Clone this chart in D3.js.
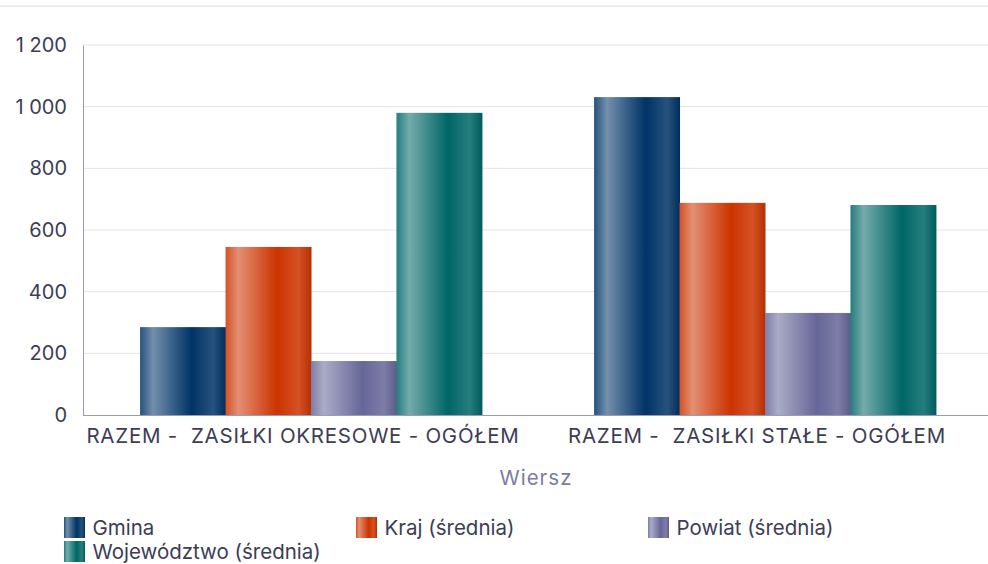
<!DOCTYPE html>
<html>
<head>
<meta charset="utf-8">
<script src="https://cdn.jsdelivr.net/npm/d3@7"></script>
<style>
  html, body { margin: 0; padding: 0; background: #fff; }
  svg { display: block; font-family: "Inter", "Open Sans", sans-serif; }
</style>
</head>
<body>
<svg id="chart" width="988" height="564"></svg>
<script>
// Categories (rows) and series
const categories = ["RAZEM -  ZASIŁKI OKRESOWE - OGÓŁEM", "RAZEM -  ZASIŁKI STAŁE - OGÓŁEM"];
const seriesNames = ["Gmina", "Kraj (średnia)", "Powiat (średnia)", "Województwo (średnia)"];
const gmina = [285, 1031];
const kraj = [545, 688];
const powiat = [175, 331];
const wojewodztwo = [980, 681];
const yTicks = [0, 200, 400, 600, 800, 1000, 1200];
const seriesColors = ["#003366", "#cc3300", "#666699", "#006666"];

const seriesValues = [gmina, kraj, powiat, wojewodztwo];
const data = categories.map((c, i) => ({
  category: c,
  values: seriesNames.map((s, k) => ({ series: s, k, value: seriesValues[k][i] }))
}));

const svg = d3.select("#chart");
const margin = { left: 83, right: 0, top: 45, bottom: 149 };
const W = 988, H = 564;
const textColor = "#3d3d55";

// thin rule across the top of the page
svg.append("rect").attr("x", 0).attr("y", 5).attr("width", W).attr("height", 2).attr("fill", "#ebebf0");

// Gradient for each series: light highlight left, dark core, soft edge
const defs = svg.append("defs");
seriesColors.forEach((col, k) => {
  const base = d3.color(col);
  const light = d3.interpolateRgb(col, "#ffffff");
  const g = defs.append("linearGradient").attr("id", "grad" + k)
    .attr("x1", "0%").attr("x2", "100%").attr("y1", "0%").attr("y2", "0%");
  [[0, light(0.15)], [0.15, light(0.45)], [0.6, col], [0.85, light(0.15)], [1, base.darker(0.3).formatHex()]]
    .forEach(([o, c]) => g.append("stop").attr("offset", o).attr("stop-color", c));
});

const x0 = d3.scaleBand().domain(categories).range([84, 992]).padding(0);
const x1 = d3.scaleBand().domain(seriesNames)
  .range([x0.bandwidth() * 0.1235, x0.bandwidth() * 0.8765]).padding(0);
const y = d3.scaleLinear().domain([0, 1200]).range([H - margin.bottom, margin.top]);

// Gridlines
svg.append("g").selectAll("line").data(yTicks.filter(t => t > 0)).join("line")
  .attr("x1", margin.left).attr("x2", W)
  .attr("y1", d => y(d)).attr("y2", d => y(d))
  .attr("stroke", "#e3e2ec").attr("stroke-width", 1);

// Y axis
const yAxis = svg.append("g").attr("transform", `translate(${margin.left},0)`)
  .call(d3.axisLeft(y).tickValues(yTicks).tickSize(0).tickPadding(16)
    .tickFormat(d => d3.format(",")(d).replace(/,/g, " ")));
yAxis.select(".domain").attr("stroke", "#9a9abb");
yAxis.selectAll("text").attr("font-size", 20).attr("fill", textColor)
  .attr("font-family", "Inter, 'Open Sans', sans-serif");

// Bars
const groups = svg.append("g").selectAll("g").data(data).join("g")
  .attr("transform", d => `translate(${x0(d.category)},0)`);
groups.selectAll("rect").data(d => d.values).join("rect")
  .attr("x", d => x1(d.series))
  .attr("width", x1.bandwidth() + 0.5)
  .attr("y", d => y(d.value))
  .attr("height", d => y(0) - y(d.value))
  .attr("fill", d => `url(#grad${d.k})`);

// X axis line
svg.append("line").attr("x1", margin.left).attr("x2", W)
  .attr("y1", y(0) + 0.5).attr("y2", y(0) + 0.5).attr("stroke", "#9a9abb");

// Category labels
svg.append("g").selectAll("text").data(categories).join("text")
  .attr("x", d => x0(d) + x0.bandwidth() / 2 - 8)
  .attr("y", 443)
  .attr("text-anchor", "middle")
  .attr("font-size", 20.5).attr("letter-spacing", 0.75).attr("fill", textColor)
  .style("white-space", "pre")
  .text(d => d);

// Axis title
svg.append("text").attr("x", 536).attr("y", 485).attr("text-anchor", "middle")
  .attr("font-size", 20.5).attr("letter-spacing", 1).attr("fill", "#7b7ba3").text("Wiersz");

// Legend
const legendPos = [[64, 517], [356, 517], [648, 517], [64, 541]];
const legend = svg.append("g").selectAll("g").data(seriesNames).join("g")
  .attr("transform", (d, i) => `translate(${legendPos[i][0]},${legendPos[i][1]})`);
legend.append("rect").attr("width", 21).attr("height", 21)
  .attr("fill", (d, i) => `url(#grad${i})`);
legend.append("text").attr("x", 28.5).attr("y", 18)
  .attr("font-size", 20.5).attr("fill", textColor).text(d => d);
</script>
</body>
</html>
